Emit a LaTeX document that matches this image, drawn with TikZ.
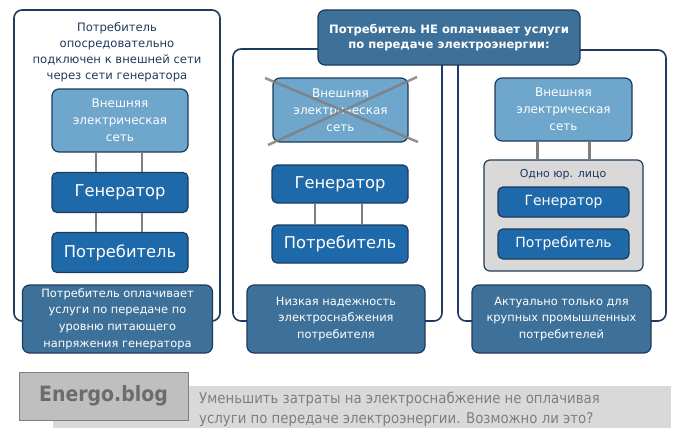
\documentclass[tikz,border=0pt]{standalone}
\usepackage{fontspec}
\setmainfont{DejaVu Sans}
\newfontfamily\condfont{DejaVu Sans Condensed}
\usepackage{tikz}
\usetikzlibrary{positioning}
\definecolor{navy}{HTML}{1D3B5C}
\definecolor{netzblau}{HTML}{6FA6CB}
\definecolor{genblau}{HTML}{1E69A9}
\definecolor{infoblau}{HTML}{3E7199}
\definecolor{hellgrau}{HTML}{D9D9D9}
\definecolor{logograu}{HTML}{BFBFBF}
\definecolor{textgrau}{HTML}{7F7F7F}

\begin{document}
\begin{tikzpicture}[x=1pt, y=-1pt,
		rahmen/.style={draw=navy, line width=1.6pt, fill=white, rounded corners=8pt, minimum width=#1},
		netz/.style={draw=navy, line width=1.2pt, fill=netzblau, rounded corners=7pt, text=white, align=center,
			minimum width=136pt, minimum height=63pt, inner sep=0pt, font=\fontsize{12}{17}\selectfont},
		gen/.style={draw=navy, line width=1.2pt, fill=genblau, rounded corners=5pt, text=white,
			minimum width=136pt, minimum height=40pt, inner sep=0pt, font=\fontsize{16.3}{18}\selectfont},
		info/.style={draw=navy, line width=1.2pt, fill=infoblau, rounded corners=7pt, text=white, align=center,
			minimum height=68pt, inner sep=0pt, font=\fontsize{11.4}{16.6}\selectfont},
		leitung/.style={draw=textgrau, line width=2.5pt},
		font=\fontsize{11.6}{16}\selectfont]
	\useasboundingbox (0,0) rectangle (690,436);
	% linker Block
	\node[rahmen=206pt, minimum height=311pt] (lrahmen) at (117,165.5) {};
	\node[text=navy, align=center] (ltext) at (117,52) {Потребитель\\опосредовательно\\подключен к внешней сети\\через сети генератора};
	\node[netz] (lnetz) at (120,120.5) {Внешняя\\электрическая\\сеть};
	\node[gen] (lgen) at (120,192.5) {Генератор};
	\node[gen] (lverb) at (120,252.5) {Потребитель};
	\draw[leitung] ([xshift=-24pt]lnetz.south) -- ([xshift=-24pt]lgen.north);
	\draw[leitung] ([xshift=22pt]lnetz.south) -- ([xshift=22pt]lgen.north);
	\draw[leitung] ([xshift=-24pt]lgen.south) -- ([xshift=-24pt]lverb.north);
	\draw[leitung] ([xshift=22pt]lgen.south) -- ([xshift=22pt]lverb.north);
	\node[info, minimum width=190pt] (linfo) at (117.5,319) {Потребитель оплачивает\\услуги по передаче по\\уровню питающего\\напряжения генератора};
	% mittlerer und rechter Block
	\node[rahmen=209pt, minimum height=272pt] (mrahmen) at (337.5,185) {};
	\node[rahmen=208pt, minimum height=271pt] (rrahmen) at (562,185.5) {};
	\node[draw=navy, line width=1.2pt, fill=infoblau, rounded corners=7pt, text=white, align=center,
		minimum width=262pt, minimum height=55pt, inner sep=0pt, font=\bfseries\fontsize{11.6}{15.5}\selectfont]
		(kopf) at (449,37.5) {Потребитель НЕ оплачивает услуги\\по передаче электроэнергии:};
	% Mitte
	\node[netz, minimum width=135pt, minimum height=64pt] (mnetz) at (340.5,110) {Внешняя\\электрическая\\сеть};
	\coordinate (k1) at (265,78);
	\coordinate (k2) at (418,142);
	\coordinate (k3) at (417,77);
	\coordinate (k4) at (268,145);
	\draw[draw=gray, opacity=0.85, line width=2.5pt] (k1) -- (k2);
	\draw[draw=gray, opacity=0.85, line width=2.5pt] (k3) -- (k4);
	\node[gen, minimum height=38pt] (mgen) at (340,184) {Генератор};
	\node[gen, minimum height=38pt] (mverb) at (340,244) {Потребитель};
	\draw[leitung] ([xshift=-25pt]mgen.south) -- ([xshift=-25pt]mverb.north);
	\draw[leitung] ([xshift=22pt]mgen.south) -- ([xshift=22pt]mverb.north);
	\node[info, minimum width=178pt] (minfo) at (336,319) {Низкая надежность\\электроснабжения\\потребителя};
	% rechts
	\node[netz, minimum width=137pt] (rnetz) at (563.5,109.5) {Внешняя\\электрическая\\сеть};
	\node[draw=navy, line width=1.2pt, fill=hellgrau, rounded corners=6pt, minimum width=159pt, minimum height=111pt] (rgruppe) at (563.5,215.5) {};
	\node[text=navy, font=\fontsize{11}{12}\selectfont] (rjur) at (563,175) {Одно юр. лицо};
	\node[gen, minimum width=131pt, minimum height=30pt, font=\fontsize{14}{16}\selectfont] (rgen) at (563.5,202) {Генератор};
	\node[gen, minimum width=131pt, minimum height=30pt, font=\fontsize{14}{16}\selectfont] (rverb) at (563.5,244) {Потребитель};
	\draw[leitung] ([xshift=-26pt]rnetz.south) -- ([xshift=-26pt]rgruppe.north);
	\draw[leitung] ([xshift=26pt]rnetz.south) -- ([xshift=26pt]rgruppe.north);
	\node[info, minimum width=179pt] (rinfo) at (561.5,319) {Актуально только для\\крупных промышленных\\потребителей};
	% Fusszeile
	\node[fill=hellgrau, minimum width=618pt, minimum height=42pt, inner sep=0pt] (band) at (362,407) {};
	\node[fill=logograu, draw=textgrau, line width=0.8pt, minimum width=169pt, minimum height=48pt, inner sep=0pt,
		text=textgrau!85!black, font=\condfont\bfseries\fontsize{21}{24}\selectfont] (logo) at (103.5,396) {Energo.blog};
	\node[anchor=west, align=left, text=textgrau, inner sep=0pt, font=\condfont\fontsize{14.8}{20}\selectfont] (titel) at (199,409)
		{Уменьшить затраты на электроснабжение не оплачивая\\услуги по передаче электроэнергии. Возможно ли это?};
\end{tikzpicture}
\end{document}
